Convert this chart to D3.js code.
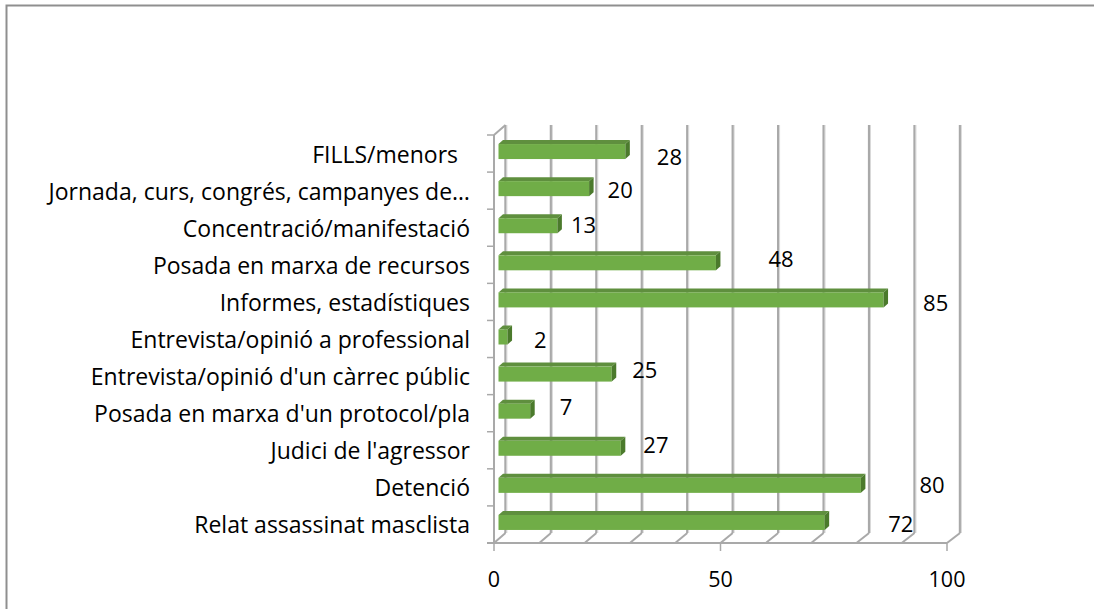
<!DOCTYPE html>
<html>
<head>
<meta charset="utf-8">
<script src="https://cdn.jsdelivr.net/npm/d3@7"></script>
<style>
  html, body { margin: 0; padding: 0; background: #ffffff; }
  svg { display: block; }
  text { font-family: "Open Sans", Lato, sans-serif; fill: #000; }
</style>
</head>
<body>
<svg id="chart" width="1094" height="609"></svg>
<script>
// Categories, top to bottom as drawn
const categories = [
  "FILLS/menors\u00a0\u00a0",
  "Jornada, curs, congrés, campanyes de…",
  "Concentració/manifestació",
  "Posada en marxa de recursos",
  "Informes, estadístiques",
  "Entrevista/opinió a professional",
  "Entrevista/opinió d'un càrrec públic",
  "Posada en marxa d'un protocol/pla",
  "Judici de l'agressor",
  "Detenció",
  "Relat assassinat masclista"
];
const counts = [28, 20, 13, 48, 85, 2, 25, 7, 27, 80, 72];
const axisTickValues = [0, 50, 100];
const gridValues = [0, 10, 20, 30, 40, 50, 60, 70, 80, 90, 100];

// Hand-placed data label nudges (px from bar end / band centre)
const labelDx = [27, 14, 9, 48, 35, 22, 16, 25, 18, 54, 59];
const labelDy = [11.5, 7.4, 5.3, 2.2, 9.1, 9, 2, 1.9, 2.8, 5.7, 7.6];

const svg = d3.select("#chart");

// 3D box layout: front plane and back wall
const frontTop = 135, frontBottom = 543;
const backTop = 125, backBottom = 533;
const xFront = d3.scaleLinear().domain([0, 100]).range([494, 947]);
const xBack = d3.scaleLinear().domain([0, 100]).range([505.5, 960]);
const xBar = d3.scaleLinear().domain([0, 100]).range([498.5, 951.5]);
const y = d3.scaleBand().domain(categories).range([frontTop, frontBottom]).padding(0);

// Chart frame
svg.append("path")
  .attr("d", "M6.5,609 L6.5,5.5 L1094,5.5")
  .attr("fill", "none").attr("stroke", "#8f8f8f").attr("stroke-width", 2);

const grid = svg.append("g");
// Back-wall gridlines
grid.selectAll("line.g").data(gridValues).join("line")
  .attr("x1", d => xBack(d)).attr("x2", d => xBack(d))
  .attr("y1", backTop).attr("y2", backBottom)
  .attr("stroke", "#a9a9a9").attr("stroke-width", 2.4);
grid.selectAll("line.gl").data(gridValues).join("line")
  .attr("x1", d => xBack(d) + 1.4).attr("x2", d => xBack(d) + 1.4)
  .attr("y1", backTop).attr("y2", backBottom)
  .attr("stroke", "#d9d9d9").attr("stroke-width", 1);
// Floor diagonals
grid.selectAll("line.f").data(gridValues).join("line")
  .attr("x1", d => xBack(d)).attr("y1", backBottom)
  .attr("x2", d => xFront(d)).attr("y2", frontBottom)
  .attr("stroke", "#a9a9a9").attr("stroke-width", 2);
// Left wall: front edge and top diagonal
grid.append("line")
  .attr("x1", xFront(0)).attr("x2", xFront(0))
  .attr("y1", frontTop).attr("y2", frontBottom)
  .attr("stroke", "#a9a9a9").attr("stroke-width", 2);
grid.append("line")
  .attr("x1", xFront(0)).attr("y1", frontTop)
  .attr("x2", xBack(0)).attr("y2", backTop)
  .attr("stroke", "#a9a9a9").attr("stroke-width", 2);
// Front floor edge
grid.append("line")
  .attr("x1", xFront(0) - 7).attr("x2", xFront(100))
  .attr("y1", frontBottom).attr("y2", frontBottom)
  .attr("stroke", "#a9a9a9").attr("stroke-width", 2);

// Category ticks
const bounds = categories.map(c => y(c)).concat([frontBottom]);
grid.selectAll("line.ct").data(bounds).join("line")
  .attr("x1", xFront(0) - 7).attr("x2", xFront(0))
  .attr("y1", d => d).attr("y2", d => d)
  .attr("stroke", "#a9a9a9").attr("stroke-width", 1.5);

// Value axis ticks and labels
svg.selectAll("line.vt").data(axisTickValues).join("line")
  .attr("x1", d => xFront(d)).attr("x2", d => xFront(d))
  .attr("y1", frontBottom).attr("y2", frontBottom + 8)
  .attr("stroke", "#a9a9a9").attr("stroke-width", 1.5);
svg.selectAll("text.vl").data(axisTickValues).join("text")
  .attr("x", d => xFront(d)).attr("y", 587)
  .attr("text-anchor", "middle").attr("font-size", 21.5)
  .text(d => d);

// Category labels
svg.selectAll("text.cl").data(categories).join("text")
  .attr("x", 470)
  .attr("y", d => y(d) + y.bandwidth() / 2 + 9)
  .attr("text-anchor", "end").attr("font-size", 23)
  .text(d => d);

// 3D bars
const faceH = 15, depthX = 4.5, depthY = 4;
const bars = svg.append("g").selectAll("g").data(categories).join("g");
const faceTop = (c) => y(c) + y.bandwidth() / 2 - 2 - faceH / 2;

bars.append("path") // top face
  .attr("d", (c, i) => {
    const x0 = xBar(0), x1 = xBar(counts[i]), t = faceTop(c);
    return `M${x0},${t} L${x1},${t} L${x1 + depthX},${t - depthY} L${x0 + depthX},${t - depthY} Z`;
  })
  .attr("fill", "#5f8f3e");
bars.append("rect") // front face
  .attr("x", xBar(0))
  .attr("y", c => faceTop(c))
  .attr("width", (c, i) => xBar(counts[i]) - xBar(0))
  .attr("height", faceH)
  .attr("fill", "#70ad47");
bars.append("path") // end cap
  .attr("d", (c, i) => {
    const x1 = xBar(counts[i]), t = faceTop(c);
    return `M${x1},${t} L${x1 + depthX},${t - depthY} L${x1 + depthX},${t - depthY + faceH} L${x1},${t + faceH} Z`;
  })
  .attr("fill", "#4b7a2c");

// Data labels
svg.selectAll("text.dl").data(counts).join("text")
  .attr("x", (d, i) => xBar(d) + depthX + labelDx[i])
  .attr("y", (d, i) => y(categories[i]) + y.bandwidth() / 2 + labelDy[i])
  .attr("text-anchor", "start").attr("font-size", 22)
  .text(d => d);
</script>
</body>
</html>
